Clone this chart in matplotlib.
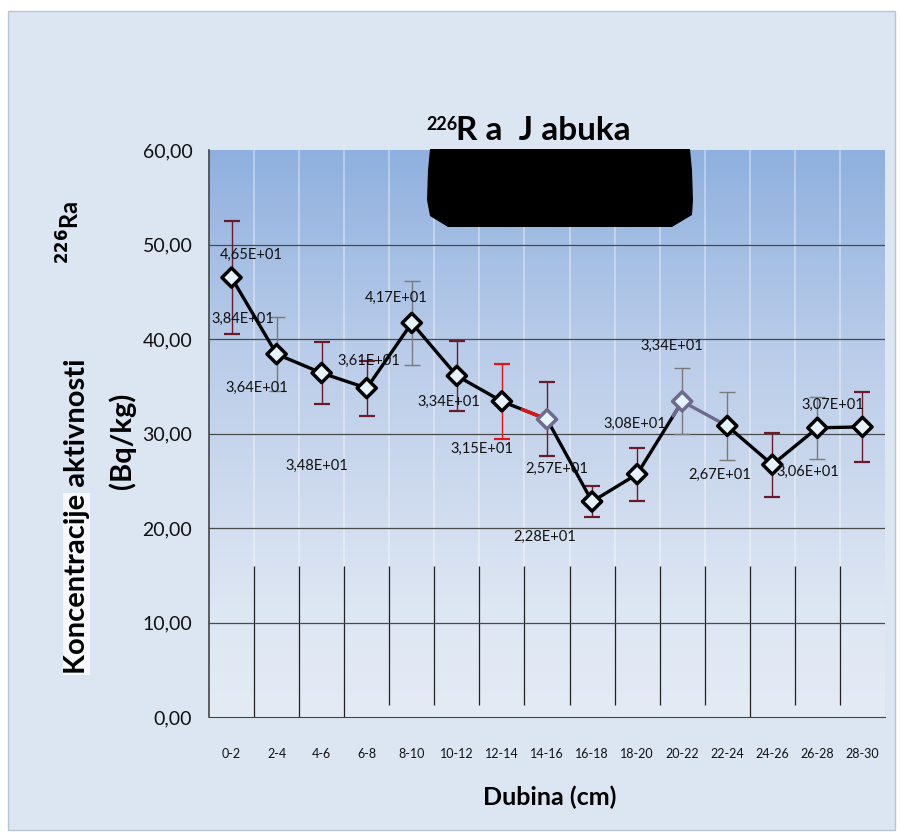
import numpy as np
import matplotlib.pyplot as plt
from matplotlib.colors import LinearSegmentedColormap
from matplotlib.patches import Polygon, Rectangle

plt.rcParams['font.family'] = ['Lato', 'DejaVu Sans']

# Podaci: 226Ra u jabuci po dubini
dubina = ["0-2", "2-4", "4-6", "6-8", "8-10", "10-12", "12-14", "14-16",
          "16-18", "18-20", "20-22", "22-24", "24-26", "26-28", "28-30"]
ra226 = [46.5, 38.4, 36.4, 34.8, 41.7, 36.1, 33.4, 31.5,
         22.8, 25.7, 33.4, 30.8, 26.7, 30.6, 30.7]
greska = [6.0, 3.9, 3.3, 2.9, 4.4, 3.7, 4.0, 3.9,
          1.6, 2.8, 3.5, 3.6, 3.4, 3.3, 3.7]
y_ticks = [0, 10, 20, 30, 40, 50, 60]

# pomaci natpisa (px, y prema dolje)
label_off = [(20, -23), (-34, -35), (-65, 15), (-50, 78), (-16, -25),
             (-88, -15), (-53, 1), (-65, 30), (-47, 35), (-80, -5),
             (-10, -55), (-92, -2), (-53, 10), (-10, 44), (-30, -22)]
# boja segmenta: (boja, od kojeg dijela segmenta pocinje)
seg_col = [("black", 0)] * 14
seg_col[6] = ("#e01515", 0.45)
seg_col[9] = ("#6e6a8e", 0.8)
seg_col[10] = ("#6e6a8e", 0)
edge_col = ["black"] * 15
edge_col[7] = "#6e6a8e"
edge_col[10] = "#6e6a8e"
maroon, grey = "#6b1a2a", "#7a7a7a"
err_col = [maroon, grey, maroon, maroon, grey, maroon, "#e01515", maroon,
           maroon, maroon, grey, grey, maroon, grey, maroon]
vl_bottom = [0, 0, 0, 1.3, 1.3, 1.3, 1.3, 1.3, 1.3, 1.3, 1.3, 0, 1.3, 1.3]

W, H = 900, 834
def fx(p):
    return p / W
def fy(p):
    return 1 - p / H

fig = plt.figure(figsize=(9, 8.34), dpi=100, facecolor="white")
fig.patches.append(Rectangle((fx(8), fy(830)), fx(887), 819 / H,
                             transform=fig.transFigure, facecolor="#dce6f2",
                             edgecolor="#b9c4d2", lw=1, zorder=-2))
fig.patches.append(Rectangle((fx(63), fy(675)), fx(27), 182 / H,
                             transform=fig.transFigure, facecolor="#f6f8fb",
                             edgecolor="none", zorder=-1))

ax = fig.add_axes([fx(209), fy(717), 676 / W, 567 / H])
ax.patch.set_alpha(0)
x = np.arange(len(dubina))

# gradijent pozadine
cmap = LinearSegmentedColormap.from_list(
    "bg", [(0, "#e4ebf5"), (0.2, "#dde6f3"), (0.4, "#cddaee"),
           (0.65, "#b9cce9"), (1, "#8fb0de")])
grad = np.linspace(0, 1, 256).reshape(-1, 1)
ax.imshow(grad, extent=(-0.5, 14.5, 0, 60), origin="lower", aspect="auto",
          cmap=cmap, zorder=0)

for k in range(14):
    ax.vlines(k + 0.5, 16, 60, color="white", alpha=0.35, lw=1.5, zorder=1)
    ax.vlines(k + 0.5, vl_bottom[k], 16, color="#222222", lw=0.9, zorder=2)

for yv in y_ticks[1:-1]:
    ax.axhline(yv, color="#4a4a4a", lw=0.9, zorder=2)

for i in range(len(ra226)):
    ax.errorbar(x[i], ra226[i], yerr=greska[i], fmt="none",
                ecolor=err_col[i], elinewidth=1.0, capsize=6,
                capthick=1.6 if err_col[i] != grey else 1.0, zorder=3)

for i in range(len(ra226) - 1):
    col, t = seg_col[i]
    xs, ys = x[i:i + 2], np.array(ra226[i:i + 2])
    if t > 0:
        ax.plot(xs, ys, color="black", lw=2.4, solid_capstyle="round",
                zorder=4)
        xs = [xs[0] + t * (xs[1] - xs[0]), xs[1]]
        ys = [ys[0] + t * (ys[1] - ys[0]), ys[1]]
    ax.plot(xs, ys, color=col, lw=2.4, solid_capstyle="round", zorder=4)

ax.scatter(x, ra226, marker="D", s=95, facecolor="#e6f3fb",
           edgecolors=edge_col, linewidths=2.5, zorder=5)

for i, v in enumerate(ra226):
    txt = f"{v:.2E}".replace(".", ",")
    dx, dy = label_off[i]
    ax.annotate(txt, (x[i], v), xytext=(dx * 0.72, -dy * 0.72),
                textcoords="offset points", ha="center", va="center",
                fontsize=10.5, color="#111111", zorder=6)

ax.set_xlim(-0.5, 14.5)
ax.set_ylim(0, 60)
ax.set_yticks(y_ticks)
ax.set_yticklabels([f"{t:.2f}".replace(".", ",") for t in y_ticks],
                   fontsize=14)
ax.set_xticks(x)
ax.set_xticklabels(dubina, fontsize=9)
ax.tick_params(axis="y", length=0, pad=12, colors="#111111")
ax.tick_params(axis="x", length=0, pad=22, colors="#111111")
for s in ["top", "right"]:
    ax.spines[s].set_visible(False)
ax.spines["left"].set_color("#444444")
ax.spines["bottom"].set_color("#444444")
ax.spines["left"].set_linewidth(1.2)

# zacrnjeni dio
blob = [(430, 149), (690, 149), (692, 170), (693, 200), (692, 215),
        (672, 227), (448, 227), (430, 216), (427, 200), (428, 170)]
fig.patches.append(Polygon([(fx(a), fy(b)) for a, b in blob], closed=True,
                           transform=fig.transFigure, facecolor="black",
                           edgecolor="none", zorder=10))

# naslovi
fig.text(fx(442), fy(125), "226", fontsize=13, fontweight="bold",
         ha="center", va="center")
fig.text(fx(456), fy(131), "R a  J abuka", fontsize=24, fontweight="bold",
         ha="left", va="center")
fig.text(fx(550), fy(797), "Dubina (cm)", fontsize=18,
         fontweight="bold", ha="center", va="center")
fig.text(fx(77), fy(516), "Koncentracije aktivnosti", fontsize=21,
         fontweight="bold", rotation=90, ha="center", va="center", zorder=3)
fig.text(fx(122), fy(441), "(Bq/kg)", fontsize=21, fontweight="bold",
         rotation=90, ha="center", va="center")
fig.text(fx(70), fy(232), "$\\mathbf{^{226}}$Ra", fontsize=17,
         fontweight="bold", rotation=90, ha="center", va="center")

fig.savefig("out.png", dpi=100, facecolor=fig.get_facecolor())
